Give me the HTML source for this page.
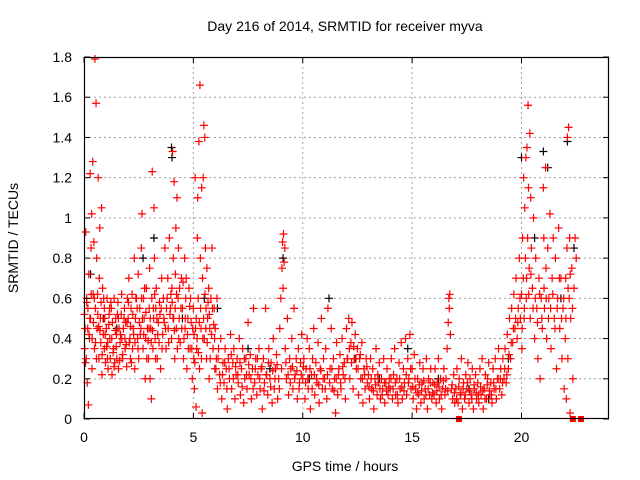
<!DOCTYPE html>
<html><head><meta charset="utf-8"><style>
html,body{margin:0;padding:0;background:#fff;}
svg{display:block;font-family:"Liberation Sans",sans-serif;}
</style></head><body>
<svg id="chart" width="640" height="480">
<rect width="640" height="480" fill="#fff"/>
<text x="345" y="31" text-anchor="middle" font-size="14" fill="#000">Day 216 of 2014, SRMTID for receiver myva</text>
<text x="345" y="471" text-anchor="middle" font-size="14" fill="#000">GPS time / hours</text>
<text transform="translate(18,238) rotate(-90)" text-anchor="middle" font-size="14" fill="#000">SRMTID / TECUs</text>
<g id="grid"></g>
<g id="black"></g>
<g id="red"></g>
<g id="axes"></g>
</svg>
<script>
const xTicks=[0,5,10,15,20];
const yTicks=[0,0.2,0.4,0.6,0.8,1,1.2,1.4,1.6,1.8];
const yTickLabels=["0","0.2","0.4","0.6","0.8","1","1.2","1.4","1.6","1.8"];
const red=[[0.02,.52],[0.05,.45],[0.08,.93],[0.1,.3],[0.12,.6],[0.15,.18],[0.18,.55],[0.2,.07],[0.22,.72],[0.25,.4],[0.28,1.22],[0.3,.5],[0.32,.85],[0.35,1.02],[0.37,.25],[0.4,1.28],[0.42,.62],[0.45,.88],[0.48,.35],[0.5,1.79],[0.52,.55],[0.55,1.57],[0.58,.8],[0.6,.45],[0.62,.62],[0.65,1.2],[0.68,.3],[0.7,.7],[0.72,.95],[0.75,.5],[0.78,.58],[0.8,1.05],[0.82,.22],[0.85,.65],[0.88,.42],[0.9,.6],[0.93,.35],[0.95,.5],[0.98,.28],
[1.02,.45],[1.05,.6],[1.08,.38],[1.1,.25],[1.15,.52],[1.18,.4],[1.2,.3],[1.25,.55],[1.28,.22],[1.3,.48],[1.35,.35],[1.38,.6],[1.4,.28],[1.45,.5],[1.48,.42],[1.5,.3],[1.55,.58],[1.58,.25],[1.6,.45],[1.65,.38],[1.7,.52],[1.72,.62],[1.75,.3],[1.8,.45],[1.85,.55],[1.88,.35],[1.9,.48],[1.95,.26],[1.98,.6],
[2.02,.5],[2.05,.7],[2.1,.4],[2.12,.3],[2.15,.55],[2.2,.62],[2.22,.35],[2.25,.45],[2.3,.8],[2.32,.25],[2.35,.5],[2.4,.6],[2.45,.4],[2.48,.72],[2.5,.3],[2.55,.55],[2.6,.45],[2.62,.85],[2.65,1.02],[2.7,.35],[2.72,.6],[2.75,.5],[2.8,.2],[2.82,.4],[2.85,.65],[2.9,.45],[2.95,.3],[2.98,.55],
[3.0,.75],[3.02,.2],[3.05,.45],[3.08,.1],[3.1,.6],[3.12,1.23],[3.15,.35],[3.18,.5],[3.2,1.05],[3.22,.8],[3.25,.4],[3.28,.55],[3.3,.65],[3.35,.3],[3.4,.48],[3.45,.58],[3.5,.25],[3.55,.7],[3.6,.42],[3.65,.5],[3.7,.85],[3.75,.35],[3.8,.6],[3.85,.45],[3.9,.9],[3.95,.55],
[4.0,.4],[4.02,.65],[4.05,1.33],[4.08,.8],[4.1,.5],[4.12,1.18],[4.15,.3],[4.18,.72],[4.2,.95],[4.22,.45],[4.25,1.1],[4.3,.6],[4.32,.85],[4.35,.5],[4.4,.38],[4.45,.7],[4.5,.55],[4.55,.3],[4.6,.8],[4.62,.45],[4.65,.6],[4.7,.25],[4.75,.5],[4.8,.65],[4.85,.35],[4.9,.48],[4.95,.2],
[5.0,.55],[5.02,.3],[5.05,.15],[5.08,1.2],[5.1,.45],[5.12,.06],[5.15,.35],[5.18,.9],[5.2,1.1],[5.22,.6],[5.25,1.38],[5.28,.25],[5.3,1.66],[5.32,.8],[5.35,.45],[5.38,1.15],[5.4,.03],[5.42,.7],[5.45,1.2],[5.48,1.46],[5.5,.4],[5.52,1.4],[5.55,.85],[5.58,.55],[5.6,.3],[5.62,.75],[5.65,.5],[5.7,.65],[5.72,.2],[5.75,.45],[5.8,.6],[5.85,.85],[5.9,.35],[5.95,.55],[5.98,.25],
[6.0,.45],[6.05,.3],[6.08,.6],[6.1,.15],[6.15,.35],[6.2,.22],[6.25,.4],[6.3,.1],[6.35,.28],[6.4,.18],[6.45,.35],[6.5,.25],[6.55,.05],[6.6,.3],[6.65,.2],[6.7,.42],[6.75,.15],[6.8,.28],[6.85,.35],[6.9,.1],[6.95,.22],
[7.0,.3],[7.05,.18],[7.1,.4],[7.15,.12],[7.2,.25],[7.25,.35],[7.3,.08],[7.35,.2],[7.4,.3],[7.45,.15],[7.5,.48],[7.55,.22],[7.6,.32],[7.65,.1],[7.7,.25],[7.75,.55],[7.8,.18],[7.85,.3],[7.9,.12],[7.95,.22],
[8.0,.35],[8.05,.15],[8.1,.25],[8.15,.05],[8.2,.3],[8.25,.18],[8.3,.55],[8.35,.22],[8.4,.12],[8.45,.35],[8.5,.2],[8.55,.28],[8.6,.08],[8.65,.4],[8.7,.15],[8.75,.25],[8.8,.32],[8.85,.1],[8.9,.2],[8.95,.45],
[9.0,.6],[9.05,.75],[9.08,.88],[9.1,.65],[9.12,.92],[9.15,.78],[9.18,.85],[9.2,.35],[9.25,.2],[9.3,.5],[9.35,.12],[9.4,.3],[9.45,.25],[9.5,.4],[9.55,.15],[9.6,.55],[9.65,.22],[9.7,.3],[9.75,.1],[9.8,.35],[9.85,.18],[9.9,.28],[9.95,.42],
[10.0,.2],[10.05,.3],[10.1,.1],[10.15,.25],[10.2,.4],[10.25,.15],[10.3,.35],[10.35,.05],[10.4,.22],[10.45,.3],[10.5,.45],[10.55,.12],[10.6,.28],[10.65,.18],[10.7,.38],[10.75,.08],[10.8,.25],[10.85,.5],[10.9,.15],[10.95,.3],
[11.0,.2],[11.05,.35],[11.1,.1],[11.15,.55],[11.25,.25],[11.3,.45],[11.35,.15],[11.4,.3],[11.45,.2],[11.5,.03],[11.55,.38],[11.6,.12],[11.65,.25],[11.7,.32],[11.75,.15],[11.8,.4],[11.85,.22],[11.9,.28],[11.95,.1],
[12.0,.45],[12.05,.3],[12.1,.5],[12.15,.2],[12.2,.38],[12.25,.48],[12.3,.15],[12.35,.3],[12.4,.42],[12.45,.25],[12.5,.35],[12.55,.12],[12.6,.3],[12.65,.2],[12.7,.38],[12.75,.08],[12.8,.25],[12.85,.15],[12.9,.3],[12.95,.18],
[13.0,.22],[13.05,.1],[13.1,.3],[13.15,.15],[13.2,.25],[13.25,.05],[13.3,.2],[13.35,.35],[13.4,.12],[13.45,.18],[13.5,.28],[13.55,.1],[13.6,.2],[13.65,.15],[13.7,.3],[13.75,.08],[13.8,.18],[13.85,.25],[13.9,.12],[13.95,.2],
[14.0,.15],[14.05,.3],[14.1,.1],[14.15,.22],[14.2,.35],[14.25,.12],[14.3,.2],[14.35,.08],[14.4,.28],[14.45,.15],[14.5,.38],[14.55,.1],[14.6,.25],[14.65,.18],[14.7,.4],[14.75,.12],[14.8,.3],[14.85,.2],[14.9,.42],[14.95,.15],
[15.0,.25],[15.05,.1],[15.1,.32],[15.15,.15],[15.2,.05],[15.25,.2],[15.3,.12],[15.35,.28],[15.4,.08],[15.45,.18],[15.5,.25],[15.55,.1],[15.6,.15],[15.65,.3],[15.7,.05],[15.75,.2],[15.8,.12],[15.85,.25],[15.9,.1],[15.95,.18],
[16.0,.12],[16.05,.25],[16.1,.08],[16.15,.18],[16.2,.3],[16.25,.1],[16.3,.2],[16.35,.05],[16.4,.15],[16.45,.25],[16.5,.12],[16.55,.2],[16.6,.35],[16.65,.48],[16.68,.6],[16.7,.55],[16.72,.62],[16.75,.42],[16.8,.15],[16.85,.1],[16.9,.22],[16.95,.08],
[17.0,.15],[17.05,.25],[17.1,.08],[17.15,.2],[17.2,.12],[17.25,.3],[17.3,.05],[17.35,.18],[17.4,.1],[17.45,.22],[17.5,.15],[17.55,.28],[17.6,.08],[17.65,.2],[17.7,.12],[17.75,.25],[17.8,.05],[17.85,.15],[17.9,.22],[17.95,.1],
[18.0,.18],[18.05,.08],[18.1,.25],[18.15,.12],[18.2,.3],[18.25,.05],[18.3,.15],[18.35,.22],[18.4,.1],[18.45,.2],[18.5,.28],[18.55,.12],[18.6,.18],[18.65,.08],[18.7,.25],[18.75,.15],[18.8,.3],[18.85,.1],[18.9,.2],[18.95,.35],
[19.0,.15],[19.05,.25],[19.1,.12],[19.15,.3],[19.2,.2],[19.25,.35],[19.3,.18],[19.35,.42],[19.4,.25],[19.45,.5],[19.5,.3],[19.55,.55],[19.6,.38],[19.65,.62],[19.7,.45],[19.75,.7],[19.8,.4],[19.85,.55],[19.9,.8],[19.95,.5],
[20.0,.62],[20.02,.35],[20.05,.9],[20.08,.7],[20.1,1.2],[20.12,.5],[20.15,1.05],[20.18,.8],[20.2,1.3],[20.22,.6],[20.25,1.35],[20.28,.9],[20.3,1.56],[20.32,1.15],[20.35,.75],[20.38,1.42],[20.4,.5],[20.42,1.1],[20.45,.85],[20.5,.65],[20.55,1.0],[20.6,.4],[20.65,.8],[20.7,.55],[20.75,.3],[20.8,.7],[20.85,.2],[20.9,.6],[20.95,.45],
[21.0,1.15],[21.02,.9],[21.05,.55],[21.1,1.25],[21.12,.75],[21.15,.4],[21.2,.85],[21.25,.6],[21.3,1.02],[21.35,.35],[21.4,.7],[21.45,.9],[21.5,.5],[21.55,.8],[21.6,.25],[21.65,.6],[21.7,.95],[21.75,.45],[21.8,.7],[21.85,.3],[21.9,.55],[21.95,.15],
[22.0,.4],[22.02,.7],[22.05,.1],[22.08,.85],[22.1,1.4],[22.12,.3],[22.15,1.45],[22.18,.6],[22.2,.9],[22.22,.03],[22.25,.5],[22.3,.75],[22.35,.2],[22.4,.65],[22.45,.9],[22.5,.8]];
const redDense=[[0.03,.35],[0.13,.58],[0.23,.42],[0.33,.62],[0.43,.48],[0.53,.38],[0.63,.52],[0.73,.44],[0.83,.32],[0.93,.55],[1.03,.36],[1.13,.47],[1.23,.58],[1.33,.33],[1.43,.44],[1.53,.52],[1.63,.29],[1.73,.4],[1.83,.5],[1.93,.37],[2.03,.58],[2.13,.46],[2.23,.52],[2.33,.38],[2.43,.55],[2.53,.48],[2.63,.6],[2.73,.42],[2.83,.53],[2.93,.39],[3.03,.5],[3.13,.44],[3.23,.62],[3.33,.5],[3.43,.38],[3.53,.55],[3.63,.6],[3.73,.45],[3.83,.7],[3.93,.52],[4.03,.58],[4.13,.44],[4.23,.62],[4.33,.4],[4.43,.55],[4.53,.68],[4.63,.5],[4.73,.42],[4.83,.56],[4.93,.35],[5.03,.42],[5.13,.5],[5.23,.33],[5.33,.55],[5.43,.4],[5.53,.62],[5.63,.38],[5.73,.52],[5.83,.42],[5.93,.47],
[0.07,.28],[0.17,.45],[0.27,.5],[0.37,.4],[0.47,.6],[0.57,.3],[0.67,.46],[0.77,.38],[0.87,.5],[0.97,.42],[1.07,.3],[1.17,.55],[1.27,.4],[1.37,.26],[1.47,.36],[1.57,.5],[1.67,.42],[1.77,.32],[1.87,.4],[1.97,.48],[2.07,.38],[2.17,.28],[2.27,.42],[2.37,.6],[2.47,.35],[2.57,.42],[2.67,.5],[2.77,.65],[2.87,.3],[2.97,.45],[3.07,.38],[3.17,.55],[3.27,.3],[3.37,.42],[3.47,.52],[3.57,.35],[3.67,.48],[3.77,.55],[3.87,.38],[3.97,.62],[4.07,.5],[4.17,.55],[4.27,.35],[4.37,.65],[4.47,.45],[4.57,.4],[4.67,.7],[4.77,.35],[4.87,.6],[4.97,.45],[5.07,.28],[5.17,.4],[5.27,.48],[5.37,.3],[5.47,.5],[5.57,.45],[5.67,.58],[5.77,.3],[5.87,.55],[5.97,.4],
[6.03,.25],[6.13,.3],[6.23,.18],[6.33,.22],[6.43,.28],[6.53,.15],[6.63,.25],[6.73,.32],[6.83,.2],[6.93,.26],[7.03,.22],[7.13,.28],[7.23,.16],[7.33,.3],[7.43,.22],[7.53,.27],[7.63,.2],[7.73,.15],[7.83,.25],[7.93,.3],[8.03,.2],[8.13,.26],[8.23,.14],[8.33,.22],[8.43,.28],[8.53,.16],[8.63,.24],[8.73,.2],[8.83,.27],[8.93,.15],[9.03,.25],[9.23,.28],[9.33,.22],[9.43,.18],[9.53,.26],[9.63,.2],[9.73,.24],[9.83,.15],[9.93,.22],[10.03,.26],[10.13,.18],[10.23,.2],[10.33,.25],[10.43,.15],[10.53,.22],[10.63,.2],[10.73,.17],[10.83,.24],[10.93,.2],[11.03,.15],[11.13,.22],[11.23,.18],[11.33,.25],[11.43,.14],[11.53,.2],[11.63,.22],[11.73,.18],[11.83,.26],[11.93,.2],[12.03,.3],[12.13,.35],[12.23,.28],[12.33,.36],[12.43,.3],[12.53,.25],[12.63,.32],[12.73,.2],[12.83,.22],[12.93,.26],[13.03,.16],[13.13,.2],[13.23,.14],[13.33,.17],[13.43,.22],[13.53,.15],[13.63,.12],[13.73,.18],[13.83,.14],[13.93,.16],[14.03,.2],[14.13,.15],[14.23,.18],[14.33,.12],[14.43,.2],[14.53,.16],[14.63,.14],[14.73,.22],[14.83,.18],[14.93,.25],[15.03,.16],[15.13,.2],[15.23,.13],[15.33,.17],[15.43,.14],[15.53,.19],[15.63,.12],[15.73,.15],[15.83,.18],[15.93,.13],[16.03,.17],[16.13,.14],[16.23,.16],[16.33,.12],[16.43,.19],[16.53,.15],[16.63,.14],[16.83,.17],[16.93,.13],[17.03,.1],[17.13,.16],[17.23,.13],[17.33,.15],[17.43,.12],[17.53,.18],[17.63,.14],[17.73,.1],[17.83,.17],[17.93,.13],[18.03,.12],[18.13,.16],[18.23,.14],[18.33,.1],[18.43,.17],[18.53,.14],[18.63,.12],[18.73,.18],[18.83,.15],[18.93,.2],[19.03,.2],[19.13,.18],[19.23,.25],[19.33,.22],[19.43,.32],[19.53,.38],[19.63,.45],[19.73,.5],[19.83,.48],[19.93,.6],
[20.03,.45],[20.13,.55],[20.23,.7],[20.33,.62],[20.43,.72],[20.53,.55],[20.63,.6],[20.73,.48],[20.83,.62],[20.93,.5],[21.03,.65],[21.13,.6],[21.23,.5],[21.33,.55],[21.43,.62],[21.53,.45],[21.63,.55],[21.73,.7],[21.83,.5],[21.93,.6],[22.03,.5],[22.13,.65],[22.23,.72],[22.33,.55]];
const black=[[0.3,.72],[0.9,.5],[1.5,.45],[2.7,.8],[3.2,.9],[4.0,1.35],[4.02,1.3],[4.5,.5],[5.5,.6],[6.1,.55],[7.5,.35],[8.5,.25],[9.1,.8],[10.3,.2],[11.2,.6],[12.4,.3],[13.5,.2],[14.8,.35],[16.2,.2],[17.6,.15],[18.5,.1],[19.4,.3],[20.0,1.3],[20.6,.9],[21.0,1.33],[21.2,1.25],[21.8,.6],[22.1,1.38],[22.4,.85]];
const zeroFlags=[17.14,22.35,22.72];

const L=84,R=609,T=57,B=419,XMAX=24,YMAX=1.8;
const xs=v=>L+v/XMAX*(R-L);
const ys=v=>B-v/YMAX*(B-T);
const NS='http://www.w3.org/2000/svg';
function mk(tag,attrs,parent){const e=document.createElementNS(NS,tag);for(const k in attrs)e.setAttribute(k,attrs[k]);parent.appendChild(e);return e;}
const grid=document.getElementById('grid'),axes=document.getElementById('axes');
yTicks.forEach((v,i)=>{
  const y=ys(v);
  if(i>0&&i<yTicks.length-1){const g=mk('line',{x1:L,x2:R,y1:y,y2:y,stroke:'#a0a0a0','stroke-dasharray':'2,3','stroke-width':1},grid);
  
  }
  mk('line',{x1:L,x2:L+6,y1:y,y2:y,stroke:'#000'},axes);
  mk('line',{x1:R,x2:R-6,y1:y,y2:y,stroke:'#000'},axes);
  const t=mk('text',{x:L-12,y:y+5,'text-anchor':'end','font-size':14,fill:'#000'},axes);
  t.textContent=yTickLabels[i];
  
  
});
xTicks.forEach(v=>{
  const x=xs(v);
  if(v>0){const g=mk('line',{x1:x,x2:x,y1:T,y2:B,stroke:'#a0a0a0','stroke-dasharray':'2,3','stroke-width':1},grid);
  
  }
  mk('line',{x1:x,x2:x,y1:B,y2:B-6,stroke:'#000'},axes);
  mk('line',{x1:x,x2:x,y1:T,y2:T+6,stroke:'#000'},axes);
  const t=mk('text',{x:x,y:B+23,'text-anchor':'middle','font-size':14,fill:'#000'},axes);
  t.textContent=String(v);
  
  
});
const frame=mk('rect',{x:L+0.5,y:T+0.5,width:R-L-1,height:B-T-1,fill:'none',stroke:'#000','stroke-width':1.2},axes);


function plus(g,d,color,name){
  const x=xs(d[0]),y=ys(d[1]);
  const p=mk('path',{d:`M${x-4},${y}H${x+4}M${x},${y-4}V${y+4}`,stroke:color,'stroke-width':1.2,fill:'none'},g);
  
  
}
const gb=document.getElementById('black'),gr=document.getElementById('red');
black.forEach(d=>plus(gb,d,'#000','black-point'));
red.forEach(d=>plus(gr,d,'#ff0000','red-point'));
redDense.forEach(d=>plus(gr,d,'#ff0000','red-point'));
zeroFlags.forEach(t=>{
  const s=mk('rect',{x:xs(t)-3,y:ys(0)-3,width:6,height:6,fill:'#ff0000'},gr);
  
  
});
</script>
</body></html>
